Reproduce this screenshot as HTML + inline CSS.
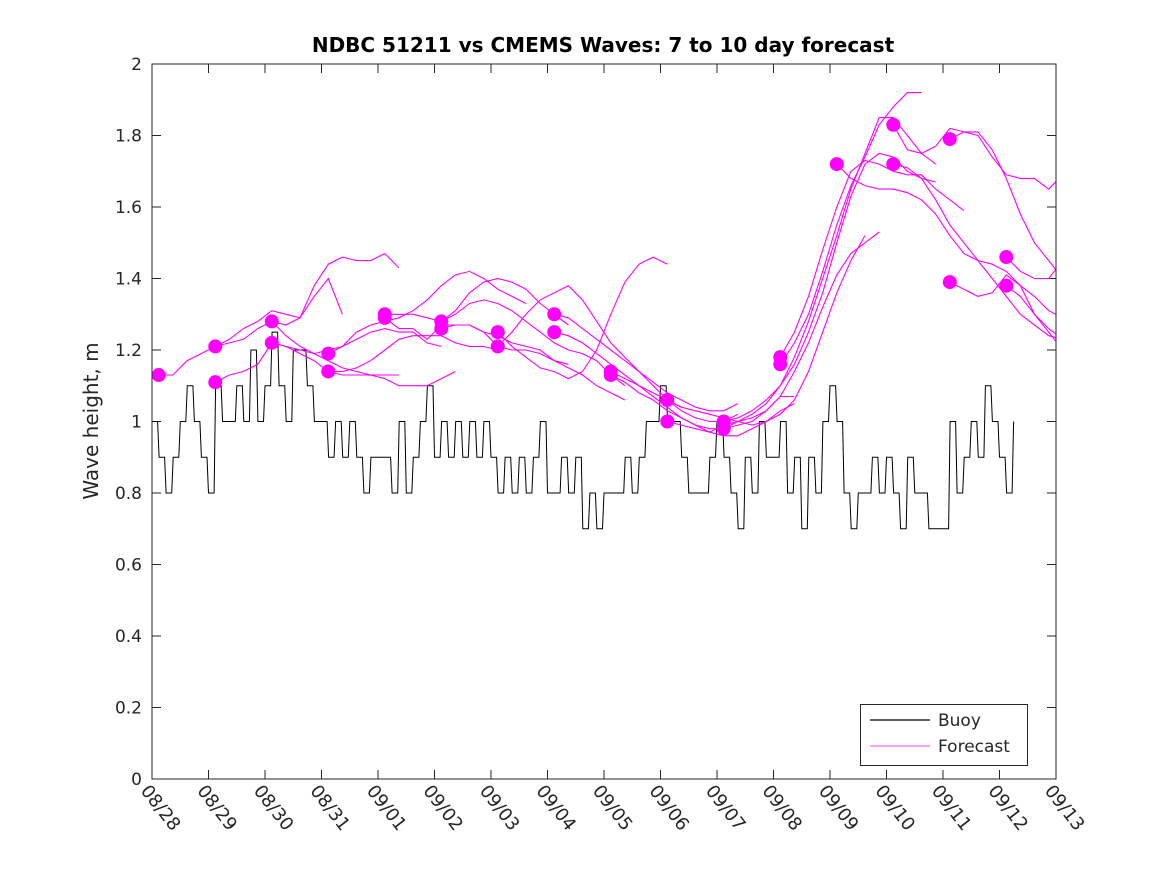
<!DOCTYPE html>
<html><head><meta charset="utf-8"><style>
body{margin:0;background:#fff;}
svg{display:block;font-family:"DejaVu Sans","Liberation Sans",sans-serif;}
</style></head><body>
<svg id="chart" width="1167" height="875">
<rect width="1167" height="875" fill="#fff"/>
<text x="603" y="52" text-anchor="middle" font-size="20" font-weight="bold" fill="#000">NDBC 51211 vs CMEMS Waves: 7 to 10 day forecast</text>
<text transform="translate(98,421) rotate(-90)" text-anchor="middle" font-size="20" fill="#262626">Wave height, m</text>
<defs><clipPath id="pc"><rect x="152" y="64" width="904" height="715"/></clipPath></defs>
<g id="axes"></g>
<g id="series" clip-path="url(#pc)"></g>
<rect x="152" y="64" width="904" height="715" fill="none" stroke="#262626" stroke-width="1"/>
<g>
<rect x="860.5" y="704.5" width="167" height="61" fill="#fff" stroke="#262626"/>
<line x1="870" y1="720" x2="930" y2="720" stroke="#000" stroke-width="1.2"/>
<text x="938" y="726" font-size="17" fill="#262626">Buoy</text>
<line x1="870" y1="746" x2="930" y2="746" stroke="#ff00ff" stroke-width="0.8"/>
<text x="938" y="752" font-size="17" fill="#262626">Forecast</text>
</g>
</svg>
<script>
const xTickLabels=["08/28","08/29","08/30","08/31","09/01","09/02","09/03","09/04","09/05","09/06","09/07","09/08","09/09","09/10","09/11","09/12","09/13"];
const yTicks=[0,0.2,0.4,0.6,0.8,1,1.2,1.4,1.6,1.8,2];
const buoyStep=0.125;
const buoy=[1.0,0.9,0.8,0.9,1.0,1.1,1.0,0.9,
0.8,1.1,1.0,1.0,1.1,1.0,1.2,1.0,
1.1,1.25,1.1,1.0,1.2,1.2,1.1,1.0,
1.0,0.9,1.0,0.9,1.0,0.9,0.8,0.9,
0.9,0.9,0.8,1.0,0.8,0.9,1.0,1.1,
0.9,1.0,0.9,1.0,0.9,1.0,0.9,1.0,
0.9,0.8,0.9,0.8,0.9,0.8,0.9,1.0,
0.8,0.8,0.9,0.8,0.9,0.7,0.8,0.7,
0.8,0.8,0.8,0.9,0.8,0.9,1.0,1.0,
1.1,1.0,1.0,0.9,0.8,0.8,0.8,0.9,
1.0,0.9,0.8,0.7,0.9,0.8,1.0,0.9,
0.9,1.0,0.8,0.9,0.7,0.9,0.8,1.0,
1.1,1.0,0.8,0.7,0.8,0.8,0.9,0.8,
0.9,0.8,0.7,0.9,0.8,0.8,0.7,0.7,
0.7,1.0,0.8,0.9,1.0,0.9,1.1,1.0,
0.9,0.8,1.0];
const fcStep=0.25;
const fcStart=[0.12,1.12,1.12,2.12,2.12,3.12,3.12,4.12,4.12,5.12,5.12,6.12,6.12,7.12,7.12,8.12,8.12,9.12,9.12,10.12,10.12,11.12,11.12,12.12,13.12,13.12,14.12,14.12,15.12,15.12];
const fcValues=[
[1.13,1.13,1.17,1.19,1.21,1.23,1.26,1.28,1.31,1.30,1.29,1.35,1.40,1.30],
[1.21,1.22,1.23,1.26,1.28,1.27,1.29,1.38,1.44,1.46,1.45,1.45,1.47,1.43],
[1.11,1.13,1.14,1.16,1.22,1.21,1.19,1.17,1.14,1.13,1.13,1.13,1.13,1.13],
[1.28,1.24,1.21,1.19,1.17,1.15,1.14,1.13,1.12,1.10,1.10,1.10,1.12,1.14],
[1.22,1.21,1.20,1.19,1.20,1.21,1.23,1.25,1.26,1.25,1.25,1.22,1.21],
[1.19,1.21,1.25,1.27,1.28,1.29,1.31,1.34,1.38,1.41,1.42,1.40,1.37,1.35,1.33],
[1.14,1.14,1.15,1.17,1.20,1.23,1.24,1.24,1.24,1.22,1.21,1.21,1.20],
[1.30,1.30,1.30,1.29,1.28,1.31,1.36,1.39,1.40,1.39,1.37,1.33,1.30,1.27],
[1.29,1.26,1.26,1.23,1.27,1.27,1.27,1.25,1.21,1.20,1.20,1.19,1.17,1.16],
[1.28,1.30,1.33,1.34,1.33,1.31,1.28,1.25,1.22,1.20,1.19,1.17,1.13,1.10],
[1.26,1.27,1.27,1.25,1.24,1.22,1.21,1.20,1.17,1.15,1.13,1.10,1.08,1.06],
[1.25,1.21,1.18,1.15,1.14,1.12,1.14,1.20,1.30,1.39,1.44,1.46,1.44],
[1.21,1.25,1.30,1.34,1.36,1.38,1.34,1.28,1.22,1.18,1.14,1.10,1.06,1.04],
[1.30,1.29,1.26,1.23,1.20,1.17,1.14,1.11,1.08,1.06,1.04,1.03,1.03,1.05],
[1.25,1.24,1.22,1.19,1.16,1.13,1.10,1.08,1.06,1.03,1.01,1.00,1.00,1.02],
[1.14,1.12,1.10,1.07,1.04,1.01,0.99,0.98,0.98,0.99,1.00,1.03,1.07,1.07],
[1.13,1.11,1.08,1.06,1.03,1.01,0.99,0.97,0.96,0.96,0.98,1.00,1.03,1.05],
[1.06,1.04,1.03,1.02,1.01,1.00,0.99,1.00,1.02,1.06,1.14,1.25,1.36,1.45,1.52],
[1.00,0.99,0.98,0.97,0.99,1.00,1.01,1.03,1.07,1.14,1.22,1.32,1.41,1.47,1.50,1.53],
[1.00,1.01,1.03,1.06,1.10,1.18,1.28,1.40,1.52,1.65,1.75,1.85,1.85,1.80,1.75,1.72],
[0.98,1.00,1.02,1.05,1.10,1.16,1.25,1.36,1.50,1.63,1.72,1.75,1.74,1.70,1.68,1.67],
[1.18,1.25,1.35,1.48,1.60,1.70,1.73,1.72,1.70,1.69,1.69,1.65,1.62,1.59],
[1.16,1.22,1.30,1.42,1.55,1.66,1.74,1.83,1.88,1.92,1.92],
[1.72,1.68,1.66,1.65,1.65,1.64,1.62,1.58,1.52,1.47,1.45,1.44,1.42,1.38,1.30,1.26,1.23],
[1.83,1.76,1.75,1.77,1.82,1.81,1.80,1.74,1.69,1.68,1.68,1.65,1.69,1.62,1.60],
[1.72,1.71,1.68,1.62,1.55,1.50,1.45,1.40,1.35,1.30,1.27,1.24,1.23],
[1.79,1.81,1.81,1.76,1.68,1.58,1.50,1.45,1.40,1.36,1.33,1.30,1.29],
[1.39,1.37,1.35,1.36,1.41,1.38,1.35,1.31,1.29,1.29],
[1.46,1.42,1.40,1.40,1.45,1.50,1.52],
[1.38,1.35,1.30,1.25,1.20,1.17,1.17,1.17]
];
const NS="http://www.w3.org/2000/svg";
const X0=152,X1=1056,Y0=779,Y1=64;
function xs(d){return X0+d*(X1-X0)/16;}
function ys(v){return Y0-v*(Y0-Y1)/2;}
const axes=document.getElementById('axes');
const ser=document.getElementById('series');
function mk(tag,attrs,parent){const e=document.createElementNS(NS,tag);for(const k in attrs)e.setAttribute(k,attrs[k]);parent.appendChild(e);return e;}
yTicks.forEach(v=>{
  const y=ys(v);
  const t1=mk('line',{x1:X0,y1:y,x2:X0+9,y2:y,stroke:'#262626'},axes);
  
  
  const t2=mk('line',{x1:X1,y1:y,x2:X1-9,y2:y,stroke:'#262626'},axes);
  
  
  const tx=mk('text',{x:X0-10,y:y+6,'text-anchor':'end','font-size':17,fill:'#262626'},axes);
  tx.textContent=String(v);
  
  
});
xTickLabels.forEach((lab,i)=>{
  const x=xs(i);
  const t1=mk('line',{x1:x,y1:Y0,x2:x,y2:Y0-9,stroke:'#262626'},axes);
  
  
  const t2=mk('line',{x1:x,y1:Y1,x2:x,y2:Y1+9,stroke:'#262626'},axes);
  
  
  const tx=mk('text',{transform:`translate(${x-12},${Y0+12}) rotate(52)`,'font-size':18,fill:'#262626'},axes);
  tx.textContent=lab;
  
  
});
const pts=[];
buoy.forEach((v,i)=>{
  const xa=xs(i*buoyStep), xb=xs((i+1)*buoyStep)-1.5;
  pts.push(xa.toFixed(1)+','+ys(v).toFixed(1));
  if(i<buoy.length-1) pts.push(xb.toFixed(1)+','+ys(v).toFixed(1));
});
const bl=mk('polyline',{points:pts.join(' '),fill:'none',stroke:'#000','stroke-width':1},ser);


fcValues.forEach((vals,k)=>{
  const s=fcStart[k];
  const p=vals.map((v,i)=>xs(s+i*fcStep).toFixed(1)+','+ys(v).toFixed(1)).join(' ');
  const l=mk('polyline',{points:p,fill:'none',stroke:'#ff00ff','stroke-width':1.1},ser);
  
  
});
fcValues.forEach((vals,k)=>{
  const c=mk('circle',{cx:xs(fcStart[k]),cy:ys(vals[0]),r:7,fill:'#ff00ff'},ser);
  
  
});
</script>
</body></html>
